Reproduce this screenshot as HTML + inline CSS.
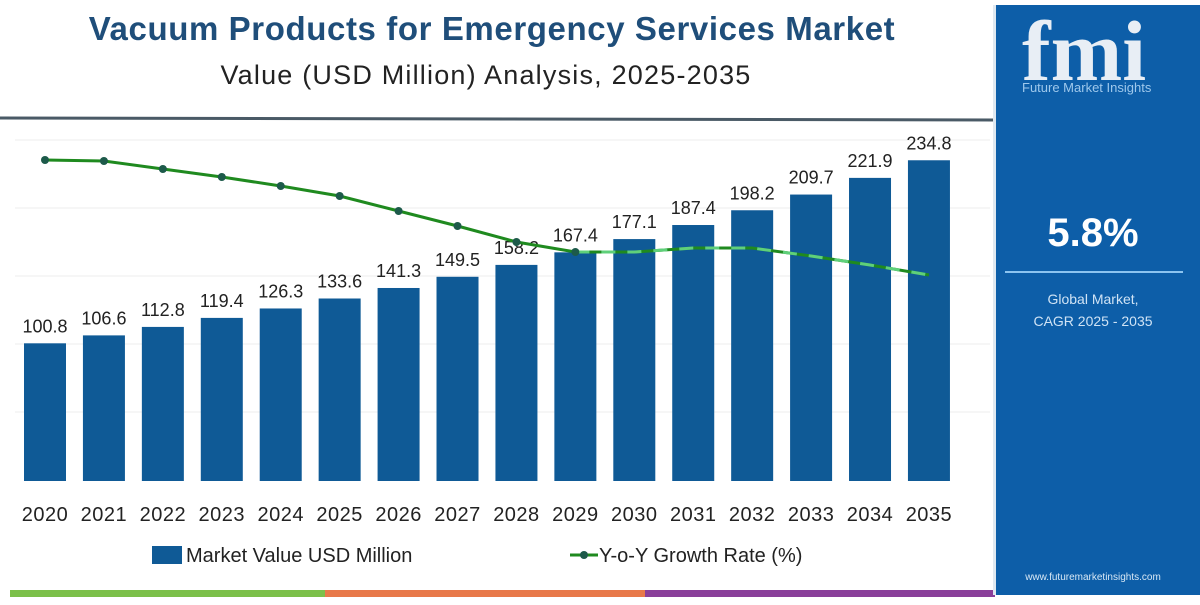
<!DOCTYPE html>
<html><head><meta charset="utf-8"><style>
body{margin:0;width:1200px;height:600px;overflow:hidden;background:#fff;font-family:"Liberation Sans",sans-serif}
</style></head><body>
<svg width="1200" height="600" xmlns="http://www.w3.org/2000/svg" font-family="Liberation Sans, sans-serif">
<rect width="1200" height="600" fill="#fff"/>
<text x="492" y="40" text-anchor="middle" font-size="33" font-weight="bold" fill="#1f4e7a" letter-spacing="0.6">Vacuum Products for Emergency Services Market</text>
<text x="486" y="84" text-anchor="middle" font-size="27" fill="#222" letter-spacing="1.2">Value (USD Million) Analysis, 2025-2035</text>
<line x1="0" y1="118" x2="995" y2="120" stroke="#4a5a66" stroke-width="3"/>
<g stroke="#eee" stroke-width="1">
<line x1="15" y1="140" x2="990" y2="140"/><line x1="15" y1="208" x2="990" y2="208"/><line x1="15" y1="276" x2="990" y2="276"/><line x1="15" y1="344" x2="990" y2="344"/><line x1="15" y1="412" x2="990" y2="412"/>
</g>
<g id="bars" fill="#0f5a96"></g>
<g id="labels" font-size="18" fill="#222" text-anchor="middle"></g>
<g id="years" font-size="20" fill="#222" text-anchor="middle" letter-spacing="0.5"></g>
<polyline id="ln" fill="none" stroke="#1f8a1f" stroke-width="3"/>
<polyline id="ld" fill="none" stroke="#5fd07a" stroke-width="3" stroke-dasharray="14,12"/>
<g id="dots" fill="#1d5a4a"></g>
<rect x="152" y="546" width="30" height="18" fill="#0f5a96"/>
<text x="186" y="562" font-size="20" fill="#222">Market Value USD Million</text>
<line x1="570" y1="555" x2="598" y2="555" stroke="#1f8a1f" stroke-width="3"/>
<circle cx="584" cy="555" r="4" fill="#1d5a4a"/>
<text x="599" y="562" font-size="20" fill="#222">Y-o-Y Growth Rate (%)</text>
<rect x="10" y="590" width="315" height="7" fill="#7cc04a"/>
<rect x="325" y="590" width="320" height="7" fill="#e8794a"/>
<rect x="645" y="590" width="350" height="7" fill="#8a3f9a"/>
<rect x="995" y="5" width="205" height="590" fill="#0d5ea8"/>
<rect x="993" y="5" width="3" height="590" fill="#dfe8f0"/>
<text x="1022" y="80" font-size="86" font-weight="bold" font-family="Liberation Serif, serif" fill="#e8eef5">fmi</text>
<text x="1022" y="92" font-size="13" fill="#9ec8ec">Future Market Insights</text>
<text x="1093" y="246" text-anchor="middle" font-size="40" font-weight="bold" fill="#fff">5.8%</text>
<line x1="1005" y1="272" x2="1183" y2="272" stroke="#8cc4f0" stroke-width="2"/>
<text x="1093" y="304" text-anchor="middle" font-size="14" fill="#cfe3f5">Global Market,</text>
<text x="1093" y="326" text-anchor="middle" font-size="14" fill="#cfe3f5">CAGR 2025 - 2035</text>
<text x="1093" y="580" text-anchor="middle" font-size="10" fill="#d8e8f5">www.futuremarketinsights.com</text>
</svg>
<script>
var v=[100.8,106.6,112.8,119.4,126.3,133.6,141.3,149.5,158.2,167.4,177.1,187.4,198.2,209.7,221.9,234.8];
var g=[160,161,169,177,186,196,211,226,242,252,252,248,248,256,265,275];
var ns="http://www.w3.org/2000/svg",b=document.getElementById("bars"),l=document.getElementById("labels"),y=document.getElementById("years"),d=document.getElementById("dots");
function el(t,a,p,txt){var e=document.createElementNS(ns,t);for(var k in a)e.setAttribute(k,a[k]);if(txt)e.textContent=txt;p.appendChild(e);}
var pts=[],dp=[];
v.forEach(function(val,i){var cx=45+58.93*i,top=481-val*1.366;
el("rect",{x:cx-21,y:top,width:42,height:481-top},b);
el("text",{x:cx,y:top-11},l,val.toFixed(1));
el("text",{x:cx,y:521},y,String(2020+i));
pts.push(cx+","+g[i]);if(i>=9)dp.push(cx+","+g[i]);
if(i<=9)el("circle",{cx:cx,cy:g[i],r:4},d);});
document.getElementById("ln").setAttribute("points",pts.join(" "));
document.getElementById("ld").setAttribute("points",dp.join(" "));
</script>
</body></html>
